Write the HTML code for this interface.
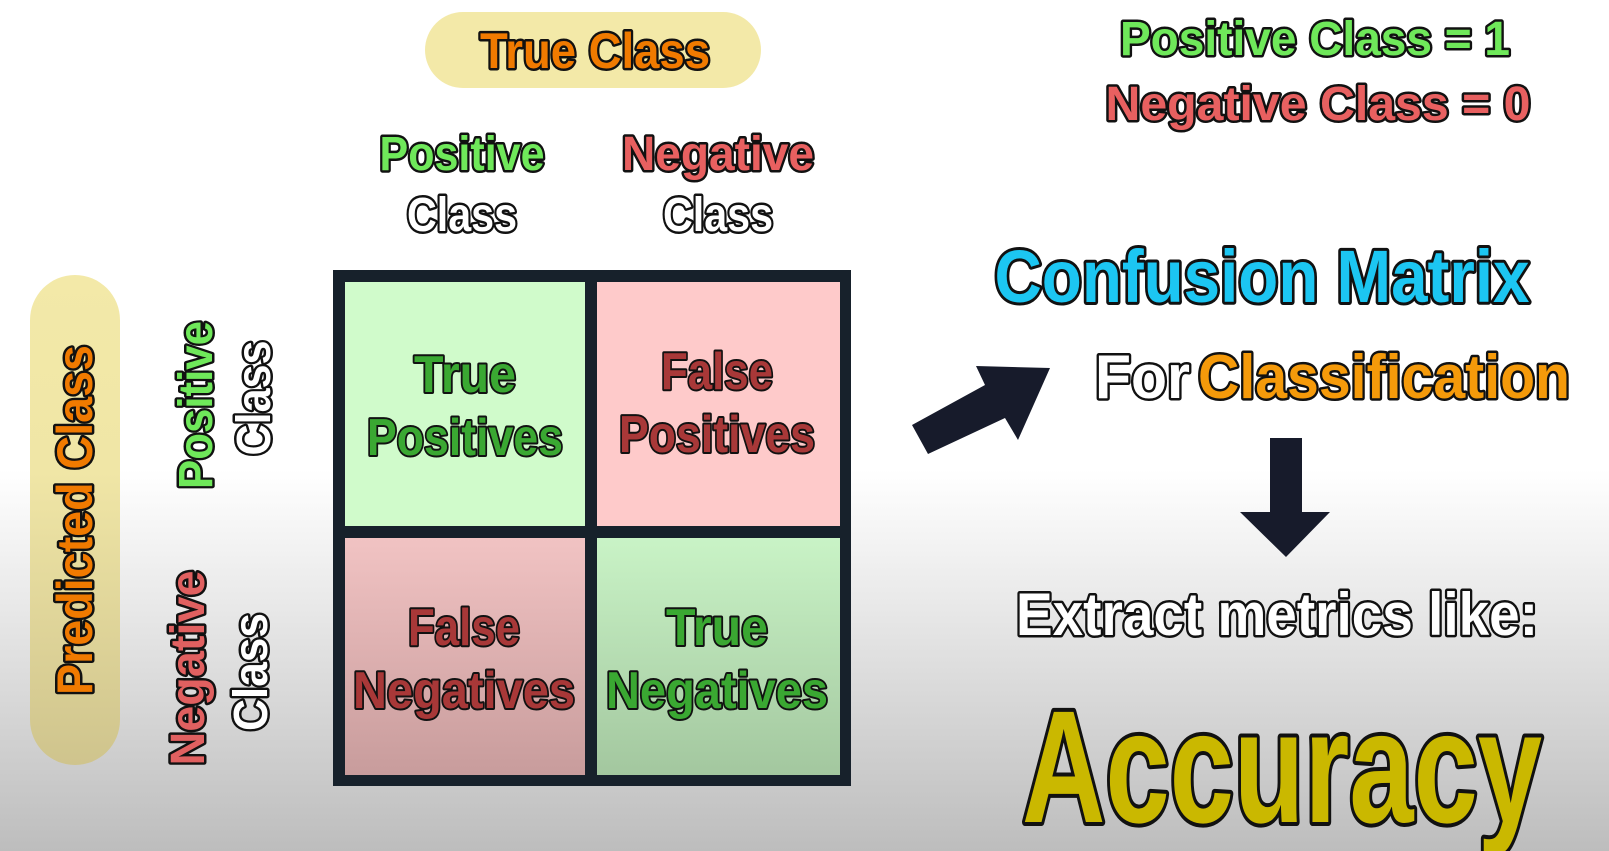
<!DOCTYPE html>
<html><head><meta charset="utf-8"><style>
html,body{margin:0;padding:0;}
body{width:1609px;height:851px;overflow:hidden;background:linear-gradient(to bottom,#fff 0,#fff 470px,#e6e6e6 620px,#bdbdbd 851px);}
svg{display:block;}
text{font-family:"Liberation Sans",sans-serif;font-weight:bold;paint-order:stroke;stroke:#111;stroke-linejoin:round;text-anchor:middle;}
</style></head><body>
<svg width="1609" height="851" viewBox="0 0 1609 851">
<defs>
<linearGradient id="gbl" x1="0" y1="0" x2="0" y2="1"><stop offset="0" stop-color="#f1c3c3"/><stop offset="1" stop-color="#c89c9c"/></linearGradient>
<linearGradient id="gbr" x1="0" y1="0" x2="0" y2="1"><stop offset="0" stop-color="#c9f3c6"/><stop offset="1" stop-color="#a3c79f"/></linearGradient>
<linearGradient id="gpill" x1="0" y1="0" x2="0" y2="1"><stop offset="0" stop-color="#f3e9a8"/><stop offset="0.4" stop-color="#f0e6a6"/><stop offset="1" stop-color="#cfc48d"/></linearGradient>
</defs>
<rect x="425" y="12" width="336" height="76" rx="38" fill="#f3e9a8"/>
<text x="595" y="68" font-size="50" fill="#f07a00" stroke-width="5" textLength="230" lengthAdjust="spacingAndGlyphs">True Class</text>
<text x="462" y="170" font-size="48" fill="#6fe85a" stroke-width="5" textLength="165" lengthAdjust="spacingAndGlyphs">Positive</text>
<text x="462" y="231" font-size="48" fill="#fff" stroke-width="5" textLength="110" lengthAdjust="spacingAndGlyphs">Class</text>
<text x="718" y="170" font-size="48" fill="#e86060" stroke-width="5" textLength="192" lengthAdjust="spacingAndGlyphs">Negative</text>
<text x="718" y="231" font-size="48" fill="#fff" stroke-width="5" textLength="110" lengthAdjust="spacingAndGlyphs">Class</text>
<rect x="30" y="275" width="90" height="490" rx="45" fill="url(#gpill)"/>
<text transform="translate(92,520) rotate(-90)" font-size="50" fill="#f07a00" stroke-width="5" textLength="350" lengthAdjust="spacingAndGlyphs">Predicted Class</text>
<text transform="translate(212,405) rotate(-90)" font-size="48" fill="#6fe85a" stroke-width="5" textLength="168" lengthAdjust="spacingAndGlyphs">Positive</text>
<text transform="translate(270,398) rotate(-90)" font-size="48" fill="#fff" stroke-width="5" textLength="115" lengthAdjust="spacingAndGlyphs">Class</text>
<text transform="translate(204,668) rotate(-90)" font-size="48" fill="#e06060" stroke-width="5" textLength="195" lengthAdjust="spacingAndGlyphs">Negative</text>
<text transform="translate(267,672) rotate(-90)" font-size="48" fill="#fff" stroke-width="5" textLength="118" lengthAdjust="spacingAndGlyphs">Class</text>
<rect x="333" y="270" width="518" height="516" fill="#17212b"/>
<rect x="345" y="282" width="240" height="244" fill="#d0fbcb"/>
<rect x="597" y="282" width="243" height="244" fill="#fecaca"/>
<rect x="345" y="538" width="240" height="237" fill="url(#gbl)"/>
<rect x="597" y="538" width="243" height="237" fill="url(#gbr)"/>
<g font-size="52" stroke-width="4">
<text x="465" y="392" fill="#3aa832" textLength="102" lengthAdjust="spacingAndGlyphs">True</text>
<text x="465" y="455" fill="#3aa832" textLength="196" lengthAdjust="spacingAndGlyphs">Positives</text>
<text x="717" y="389" fill="#a83838" textLength="112" lengthAdjust="spacingAndGlyphs">False</text>
<text x="717" y="452" fill="#a83838" textLength="196" lengthAdjust="spacingAndGlyphs">Positives</text>
<text x="464" y="645" fill="#a83838" textLength="112" lengthAdjust="spacingAndGlyphs">False</text>
<text x="464" y="708" fill="#a83838" textLength="222" lengthAdjust="spacingAndGlyphs">Negatives</text>
<text x="717" y="645" fill="#3aa832" textLength="102" lengthAdjust="spacingAndGlyphs">True</text>
<text x="717" y="708" fill="#3aa832" textLength="222" lengthAdjust="spacingAndGlyphs">Negatives</text>
</g>
<polygon points="912,425 985,385 976,366 1050,368 1018,440 1005,418 928,454" fill="#171b2b"/>
<polygon points="1270,438 1302,438 1302,512 1330,512 1286,557 1240,512 1270,512" fill="#171b2b"/>
<text x="1315" y="55" font-size="48" fill="#6fe85a" stroke-width="5" textLength="390" lengthAdjust="spacingAndGlyphs">Positive Class = 1</text>
<text x="1318" y="120" font-size="48" fill="#e86060" stroke-width="5" textLength="425" lengthAdjust="spacingAndGlyphs">Negative Class = 0</text>
<text x="1262" y="302" font-size="74" fill="#1cc6f2" stroke-width="6" textLength="535" lengthAdjust="spacingAndGlyphs">Confusion Matrix</text>
<text x="1095" y="398" font-size="62" fill="#fff" stroke-width="5" style="text-anchor:start" textLength="95" lengthAdjust="spacingAndGlyphs">For</text>
<text x="1198" y="398" font-size="62" fill="#f59a0a" stroke-width="5" style="text-anchor:start" textLength="372" lengthAdjust="spacingAndGlyphs">Classification</text>
<text x="1277" y="635" font-size="60" fill="#fff" stroke-width="5" textLength="522" lengthAdjust="spacingAndGlyphs">Extract metrics like:</text>
<text x="1282" y="822" font-size="160" fill="#cab800" stroke-width="8" textLength="520" lengthAdjust="spacingAndGlyphs">Accuracy</text>
</svg>
</body></html>
